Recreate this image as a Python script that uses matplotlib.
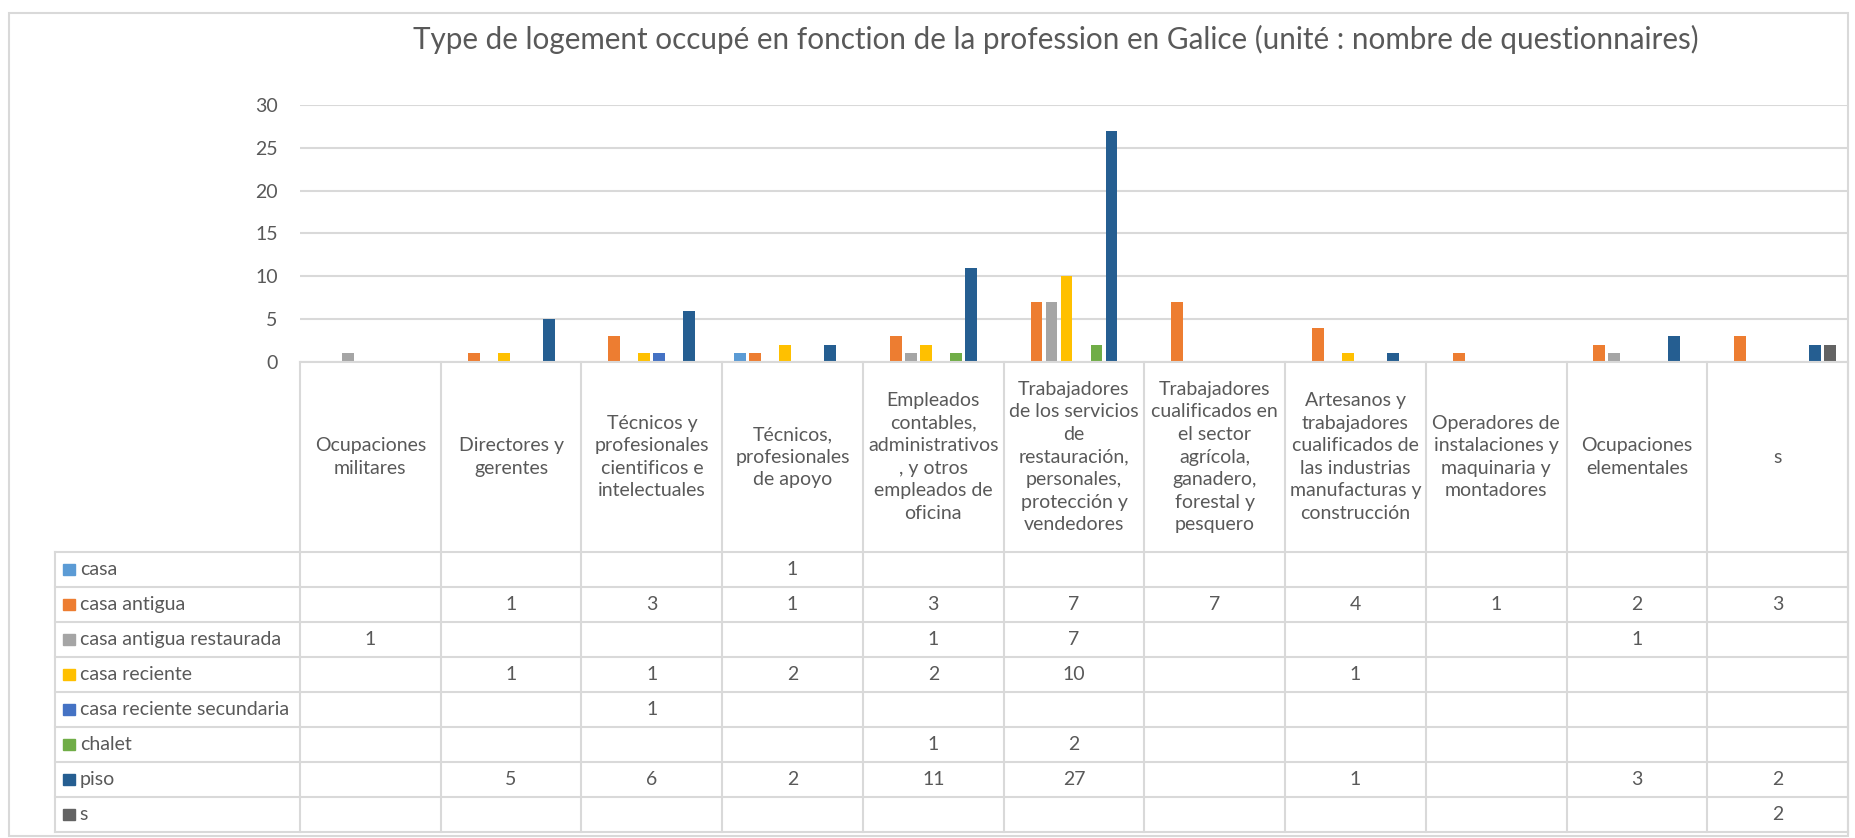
import numpy as np
import matplotlib
matplotlib.use("Agg")
import matplotlib.pyplot as plt
from matplotlib.patches import Rectangle

plt.rcParams['font.family'] = ['Lato', 'DejaVu Sans']

title = "Type de logement occupé en fonction de la profession en Galice (unité : nombre de questionnaires)"

categories = [
    "Ocupaciones\nmilitares",
    "Directores y\ngerentes",
    "Técnicos y\nprofesionales\ncientificos e\nintelectuales",
    "Técnicos,\nprofesionales\nde apoyo",
    "Empleados\ncontables,\nadministrativos\n, y otros\nempleados de\noficina",
    "Trabajadores\nde los servicios\nde\nrestauración,\npersonales,\nprotección y\nvendedores",
    "Trabajadores\ncualificados en\nel sector\nagrícola,\nganadero,\nforestal y\npesquero",
    "Artesanos y\ntrabajadores\ncualificados de\nlas industrias\nmanufacturas y\nconstrucción",
    "Operadores de\ninstalaciones y\nmaquinaria y\nmontadores",
    "Ocupaciones\nelementales",
    "s",
]

series_names = ["casa", "casa antigua", "casa antigua restaurada", "casa reciente",
                "casa reciente secundaria", "chalet", "piso", "s"]
colors = ["#5B9BD5", "#ED7D31", "#A5A5A5", "#FFC000",
          "#4472C4", "#70AD47", "#255E91", "#636363"]

# None = empty cell in the data table
casa = [None, None, None, 1, None, None, None, None, None, None, None]
casa_antigua = [None, 1, 3, 1, 3, 7, 7, 4, 1, 2, 3]
casa_antigua_restaurada = [1, None, None, None, 1, 7, None, None, None, 1, None]
casa_reciente = [None, 1, 1, 2, 2, 10, None, 1, None, None, None]
casa_reciente_secundaria = [None, None, 1, None, None, None, None, None, None, None, None]
chalet = [None, None, None, None, 1, 2, None, None, None, None, None]
piso = [None, 5, 6, 2, 11, 27, None, 1, None, 3, 2]
s = [None, None, None, None, None, None, None, None, None, None, 2]

values = [casa, casa_antigua, casa_antigua_restaurada, casa_reciente,
          casa_reciente_secundaria, chalet, piso, s]

yticks = [0, 5, 10, 15, 20, 25, 30]

W, H = 1856, 838
text_c = "#595959"
grid_c = "#D9D9D9"
fs = 14

fig = plt.figure(figsize=(W / 100, H / 100), dpi=100)

# outer chart border
fig.patches.append(Rectangle((9 / W, 2 / H), 1839 / W, (H - 15) / H, transform=fig.transFigure,
                             fill=False, edgecolor=grid_c, linewidth=1.5))

fig.text(1056 / W, 1 - 39 / H, title, ha="center", va="center", fontsize=21.3, color=text_c)

# plot area in pixels
px_left, px_right = 300, 1848
py_top, py_zero = 105, 362
ax = fig.add_axes([px_left / W, 1 - py_zero / H, (px_right - px_left) / W, (py_zero - py_top) / H])

n_cat = len(categories)
n_ser = len(series_names)
slot = 0.1066
bw = 0.085
x = np.arange(n_cat)
for i, (vals, col) in enumerate(zip(values, colors)):
    xs = [xi + (i - (n_ser - 1) / 2) * slot for xi, v in zip(x, vals) if v is not None]
    hs = [v for v in vals if v is not None]
    ax.bar(xs, hs, width=bw, color=col, zorder=3)

ax.set_xlim(-0.5, n_cat - 0.5)
ax.set_ylim(0, 30)
ax.set_yticks(yticks)
ax.yaxis.grid(True, color=grid_c, linewidth=1.5, zorder=0)
ax.set_xticks([])
for sp in ax.spines.values():
    sp.set_visible(False)
ax.tick_params(axis="y", length=0, pad=16, labelsize=fs, labelcolor=text_c)

# data table under the plot, x in category units
leg_w = (300 - 55) / ((px_right - px_left) / n_cat)
row_h = 35
head_h = 552 - py_zero
n_rows = len(series_names)
tab_bottom = py_zero + head_h + n_rows * row_h
tx = fig.add_axes([55 / W, 1 - tab_bottom / H, (px_right - 55) / W, (tab_bottom - py_zero) / H])
tx.set_xlim(-0.5 - leg_w, n_cat - 0.5)
tx.set_ylim(n_rows, -head_h / row_h)
tx.axis("off")

lw = 1.5
hy = -head_h / row_h
# vertical lines
for k in range(n_cat + 1):
    tx.plot([k - 0.5, k - 0.5], [hy, n_rows], color=grid_c, lw=lw, clip_on=False)
tx.plot([-0.5 - leg_w] * 2, [0, n_rows], color=grid_c, lw=lw, clip_on=False)
# horizontal lines
tx.plot([-0.5, n_cat - 0.5], [hy, hy], color=grid_c, lw=lw, clip_on=False)
for r in range(n_rows + 1):
    tx.plot([-0.5 - leg_w, n_cat - 0.5], [r, r], color=grid_c, lw=lw, clip_on=False)

for k, cat in enumerate(categories):
    tx.text(k, hy / 2, cat, ha="center", va="center", fontsize=fs, color=text_c,
            linespacing=1.4)

for r, (name, col, vals) in enumerate(zip(series_names, colors, values)):
    tx.add_patch(Rectangle((-0.5 - leg_w + 0.057, r + 0.33), 0.085, 0.34, color=col,
                           clip_on=False))
    tx.text(-0.5 - leg_w + 0.175, r + 0.5, name, ha="left", va="center", fontsize=fs,
            color=text_c)
    for k, v in enumerate(vals):
        if v is not None:
            tx.text(k, r + 0.5, str(v), ha="center", va="center", fontsize=fs, color=text_c)

fig.savefig("out.png", dpi=100)
